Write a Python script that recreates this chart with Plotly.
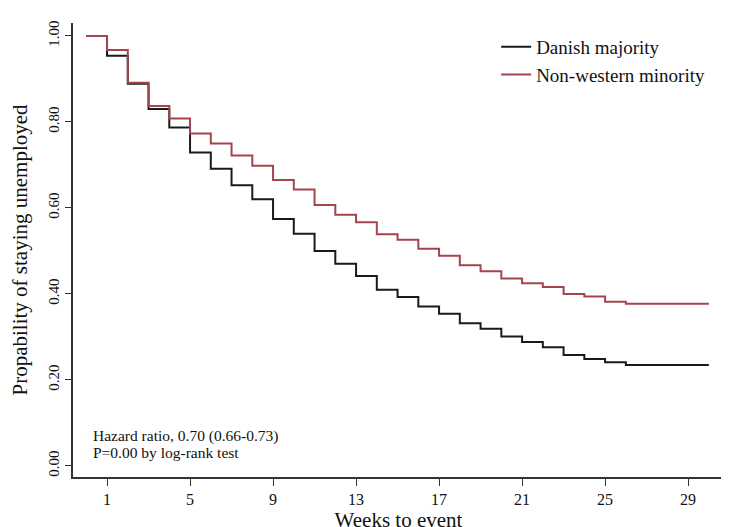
import plotly.graph_objects as go

weeks = list(range(0, 27)) + [30]
danish = [1.00, 0.954, 0.889, 0.830, 0.787, 0.729, 0.691, 0.653, 0.620, 0.574,
          0.540, 0.500, 0.470, 0.442, 0.410, 0.393, 0.371, 0.354, 0.332, 0.319,
          0.301, 0.288, 0.276, 0.258, 0.249, 0.241, 0.235, 0.235]
nonwestern = [1.00, 0.967, 0.891, 0.837, 0.808, 0.773, 0.750, 0.722, 0.698, 0.665,
              0.643, 0.607, 0.584, 0.567, 0.539, 0.526, 0.505, 0.489, 0.467, 0.453,
              0.436, 0.425, 0.416, 0.400, 0.394, 0.382, 0.377, 0.377]
x_ticks = [1, 5, 9, 13, 17, 21, 25, 29]
y_ticks = [0.0, 0.2, 0.4, 0.6, 0.8, 1.0]
y_tick_labels = ["0.00", "0.20", "0.40", "0.60", "0.80", "1.00"]
note_lines = ["Hazard ratio, 0.70 (0.66-0.73)", "P=0.00 by log-rank test"]

FONT = "Liberation Serif"
RED = "#A3444E"

fig = go.Figure()
fig.add_trace(go.Scatter(x=weeks, y=danish, mode="lines", line_shape="hv",
                         line=dict(color="#1a1a1a", width=2), name="Danish majority"))
fig.add_trace(go.Scatter(x=weeks, y=nonwestern, mode="lines", line_shape="hv",
                         line=dict(color=RED, width=2), name="Non-western minority"))

fig.update_layout(
    width=729, height=527,
    margin=dict(l=65, r=13, t=15, b=58, autoexpand=False),
    paper_bgcolor="white", plot_bgcolor="white",
    font=dict(family=FONT, color="#111"),
    showlegend=True,
    legend=dict(x=0.650, y=0.989, xanchor="left", yanchor="top",
                font=dict(family=FONT, size=19, color="#111"),
                bgcolor="rgba(0,0,0,0)", itemwidth=30, tracegroupgap=0),
    xaxis=dict(range=[-0.64, 30.73], tickvals=x_ticks, ticks="outside", ticklen=7,
               tickcolor="#333", showline=True, linecolor="#333", linewidth=1.5,
               showgrid=False, zeroline=False, automargin=False,
               tickfont=dict(family=FONT, size=16, color="#111"),
               title=dict(text="Weeks to event", font=dict(family=FONT, size=21, color="#111"),
                          standoff=3)),
    yaxis=dict(range=[-0.0256, 1.030], tickvals=y_ticks, ticktext=y_tick_labels,
               tickangle=-90, ticks="outside", ticklen=6, tickcolor="#333",
               showline=True, linecolor="#333", linewidth=1.5,
               showgrid=False, zeroline=False, automargin=False,
               tickfont=dict(family=FONT, size=15, color="#111"),
               title=dict(text="Propability of staying unemployed",
                          font=dict(family=FONT, size=21, color="#111"), standoff=14)),
)

for line_text, ypos in zip(note_lines, [0.090, 0.055]):
    fig.add_annotation(xref="paper", yref="paper", x=0.028, y=ypos,
                       xanchor="left", yanchor="middle",
                       text=line_text, showarrow=False, align="left",
                       font=dict(family=FONT, size=15.5, color="#111"))

fig.write_html("out.html")
